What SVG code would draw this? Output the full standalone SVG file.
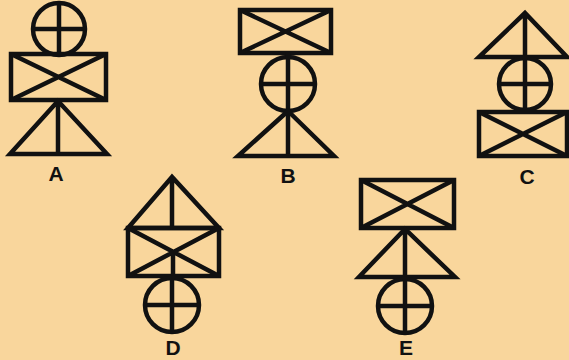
<svg xmlns="http://www.w3.org/2000/svg" width="569" height="360" viewBox="0 0 569 360">
<style>
.s{fill:none;stroke:#111;stroke-width:4.5;stroke-linejoin:miter}
.t{font-family:"Liberation Sans",Arial,sans-serif;font-weight:bold;font-size:21px;fill:#111;text-anchor:middle}
</style>
<rect width="569" height="360" fill="#F9D69C"/>
<g id="A">
<circle class="s" cx="59" cy="29" r="26"/>
<path class="s" d="M33 29H85M59 3V55"/>
<rect class="s" x="11" y="54" width="95" height="46"/>
<path class="s" d="M11 54L106 100M106 54L11 100"/>
<path class="s" d="M58 101L10 154H107Z M58 101V154"/>
<text class="t" x="56" y="181">A</text>
</g>
<g id="B">
<rect class="s" x="240" y="10" width="91" height="43"/>
<path class="s" d="M240 10L331 53M331 10L240 53"/>
<circle class="s" cx="288" cy="84" r="27"/>
<path class="s" d="M261 84H315M288 53V156"/>
<path class="s" d="M288 111L238 156H334Z"/>
<text class="t" x="288" y="183">B</text>
</g>
<g id="C">
<path class="s" d="M525 13L479 57H567Z M525 13V57"/>
<circle class="s" cx="525" cy="84" r="26"/>
<path class="s" d="M499 84H551M525 58V110"/>
<rect class="s" x="479" y="112" width="88" height="44"/>
<path class="s" d="M479 112L567 156M567 112L479 156"/>
<text class="t" x="527" y="184">C</text>
</g>
<g id="D">
<path class="s" d="M172 177L128 228H219Z M172 177V228"/>
<rect class="s" x="128" y="228" width="91" height="48"/>
<path class="s" d="M128 228L219 276M219 228L128 276M173 252V276"/>
<circle class="s" cx="172" cy="305" r="27"/>
<path class="s" d="M145 305H199M172 278V332"/>
<text class="t" x="173" y="355">D</text>
</g>
<g id="E">
<rect class="s" x="361" y="180" width="93" height="48"/>
<path class="s" d="M361 180L454 228M454 180L361 228"/>
<path class="s" d="M405 229L359 277H455Z M405 229V277"/>
<circle class="s" cx="405" cy="306" r="27"/>
<path class="s" d="M378 306H432M405 279V333"/>
<text class="t" x="406" y="355">E</text>
</g>
</svg>
